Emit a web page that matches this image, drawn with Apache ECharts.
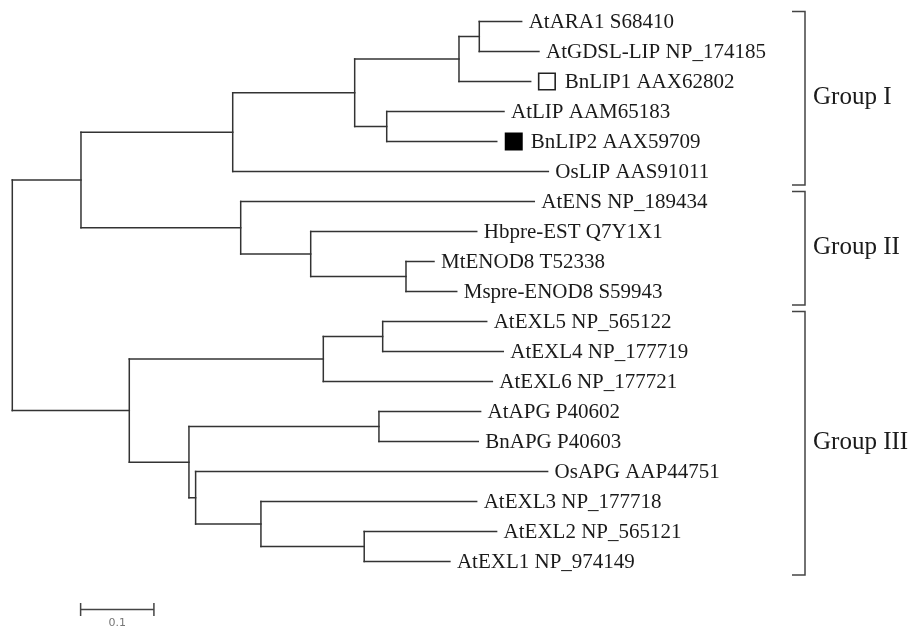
<!DOCTYPE html>
<html>
<head>
<meta charset="utf-8">
<script src="https://cdn.jsdelivr.net/npm/echarts@6/dist/echarts.min.js"></script>
<style>
html, body { margin: 0; padding: 0; background: #fff; }
#main { width: 913px; height: 631px; }
</style>
</head>
<body>
<div id="main"></div>
<script>
// tree in preorder: name ('' = inner node), parent index, branch length
var nodeNames = ['', '', '', '', '', '', 'AtARA1 S68410', 'AtGDSL-LIP NP_174185', 'BnLIP1 AAX62802',
    '', 'AtLIP AAM65183', 'BnLIP2 AAX59709', 'OsLIP AAS91011',
    '', 'AtENS NP_189434', '', 'Hbpre-EST Q7Y1X1', '', 'MtENOD8 T52338', 'Mspre-ENOD8 S59943',
    '', '', '', 'AtEXL5 NP_565122', 'AtEXL4 NP_177719', 'AtEXL6 NP_177721',
    '', '', 'AtAPG P40602', 'BnAPG P40603', '', 'OsAPG AAP44751', '', 'AtEXL3 NP_177718',
    '', 'AtEXL2 NP_565121', 'AtEXL1 NP_974149'];
var nodeParents = [-1, 0, 1, 2, 3, 4, 5, 5, 4,
    3, 9, 9, 2,
    1, 13, 13, 15, 15, 17, 17,
    0, 20, 21, 22, 22, 21,
    20, 26, 27, 27, 26, 30, 30, 32,
    32, 34, 34];
var branchLengths = [0, 0.0937, 0.2070, 0.1664, 0.1423, 0.0277, 0.0578, 0.0814, 0.0978,
    0.0437, 0.1600, 0.1501, 0.4306,
    0.2179, 0.4005, 0.0955, 0.2265, 0.1300, 0.0382, 0.0692,
    0.1596, 0.2647, 0.0810, 0.1419, 0.1645, 0.2306,
    0.0814, 0.2592, 0.1387, 0.1355, 0.0091, 0.4802, 0.0891, 0.2943,
    0.1409, 0.1806, 0.1169];

var markerLeaves = ['BnLIP1 AAX62802', 'BnLIP2 AAX59709'];
var markerFilled = [false, true];

var groupNames = ['Group I', 'Group II', 'Group III'];
var groupFirstLeaf = [0, 6, 10];
var groupLastLeaf = [5, 9, 18];

var scaleBarLength = 0.1;
var scaleBarLabel = '0.1';

// layout: depth from branch lengths, leaf rows in order, inner nodes at middle of children
var n = nodeNames.length;
var depth = [], children = [], rowY = [];
for (var i = 0; i < n; i++) {
    children.push([]);
    depth.push(nodeParents[i] < 0 ? 0 : depth[nodeParents[i]] + branchLengths[i]);
    if (nodeParents[i] >= 0) children[nodeParents[i]].push(i);
}
var leafCount = 0;
for (var i = 0; i < n; i++) {
    if (children[i].length === 0) rowY[i] = leafCount++;
}
for (var i = n - 1; i >= 0; i--) {
    var c = children[i];
    if (c.length) rowY[i] = (rowY[c[0]] + rowY[c[c.length - 1]]) / 2;
}

var treeData = [];
for (var i = 0; i < n; i++) {
    var c = children[i];
    var p = nodeParents[i];
    treeData.push([
        p < 0 ? depth[i] : depth[p], depth[i], rowY[i],
        c.length ? rowY[c[0]] : rowY[i],
        c.length ? rowY[c[c.length - 1]] : rowY[i],
        i
    ]);
}

var lineColor = '#333';
var textFont = '21px "Liberation Serif", "Times New Roman", serif';

function renderTree(params, api) {
    var idx = api.value(5);
    var a = api.coord([api.value(0), api.value(2)]);
    var b = api.coord([api.value(1), api.value(2)]);
    var items = [];
    if (b[0] - a[0] > 0.1) {
        items.push({type: 'line', shape: {x1: a[0], y1: a[1], x2: b[0], y2: b[1]},
            style: {stroke: lineColor, lineWidth: 1.5, lineCap: 'square'}});
    }
    if (children[idx].length) {
        var t = api.coord([api.value(1), api.value(3)]);
        var u = api.coord([api.value(1), api.value(4)]);
        items.push({type: 'line', shape: {x1: t[0], y1: t[1], x2: u[0], y2: u[1]},
            style: {stroke: lineColor, lineWidth: 1.5, lineCap: 'square'}});
    } else {
        var tx = b[0] + 7;
        var m = markerLeaves.indexOf(nodeNames[idx]);
        if (m >= 0) {
            var filled = markerFilled[m];
            var s = filled ? 18 : 16.5;
            items.push({type: 'rect', shape: {x: b[0] + 8, y: b[1] - s / 2, width: s, height: s},
                style: {fill: filled ? '#000' : '#fff', stroke: '#222', lineWidth: filled ? 0 : 1.6}});
            tx = b[0] + 34;
        }
        items.push({type: 'text', style: {text: nodeNames[idx], x: tx, y: b[1] + 0.5,
            font: textFont, fill: '#1a1a1a', textAlign: 'left', textVerticalAlign: 'middle'}});
    }
    return {type: 'group', children: items};
}

var groupData = groupNames.map(function (g, k) {
    return [groupFirstLeaf[k], groupLastLeaf[k], k];
});

function renderGroup(params, api) {
    var k = api.value(2);
    var top = api.coord([0, api.value(0) - 0.33])[1];
    var bot = api.coord([0, api.value(1) + 0.45])[1];
    var mid = api.coord([0, (api.value(0) + api.value(1)) / 2])[1];
    var x = 805;
    return {type: 'group', children: [
        {type: 'polyline', shape: {points: [[x - 13, top], [x, top], [x, bot], [x - 13, bot]]},
            style: {stroke: '#444', lineWidth: 1.5, fill: null}},
        {type: 'text', style: {text: groupNames[k], x: x + 8, y: mid + 1,
            font: '25px "Liberation Serif", "Times New Roman", serif', fill: '#1a1a1a',
            textAlign: 'left', textVerticalAlign: 'middle'}}
    ]};
}

function renderScale(params, api) {
    var a = api.coord([api.value(0), api.value(1)]);
    var b = api.coord([api.value(0) + scaleBarLength, api.value(1)]);
    var st = {stroke: '#444', lineWidth: 1.5};
    return {type: 'group', children: [
        {type: 'line', shape: {x1: a[0], y1: a[1], x2: b[0], y2: b[1]}, style: st},
        {type: 'line', shape: {x1: a[0], y1: a[1] - 6.5, x2: a[0], y2: a[1] + 6.5}, style: st},
        {type: 'line', shape: {x1: b[0], y1: b[1] - 6.5, x2: b[0], y2: b[1] + 6.5}, style: st},
        {type: 'text', style: {text: scaleBarLabel, x: (a[0] + b[0]) / 2, y: a[1] + 14,
            font: '11px "DejaVu Sans", sans-serif', fill: '#777', textAlign: 'center', textVerticalAlign: 'middle'}}
    ]};
}

var chart = echarts.init(document.getElementById('main'));
chart.setOption({
    animation: false,
    backgroundColor: '#fff',
    grid: {left: 12.3, top: 21.5, width: 733, height: 540},
    xAxis: {type: 'value', min: 0, max: 1, show: false},
    yAxis: {type: 'value', min: 0, max: 18, inverse: true, show: false},
    series: [
        {type: 'custom', name: 'tree', renderItem: renderTree, data: treeData,
            encode: {x: [0, 1], y: [2, 3, 4]}, silent: true},
        {type: 'custom', name: 'groups', renderItem: renderGroup, data: groupData,
            encode: {y: [0, 1]}, silent: true},
        {type: 'custom', name: 'scale', renderItem: renderScale, data: [[0.0932, 19.6]],
            encode: {x: 0, y: 1}, silent: true}
    ]
});
</script>
</body>
</html>
